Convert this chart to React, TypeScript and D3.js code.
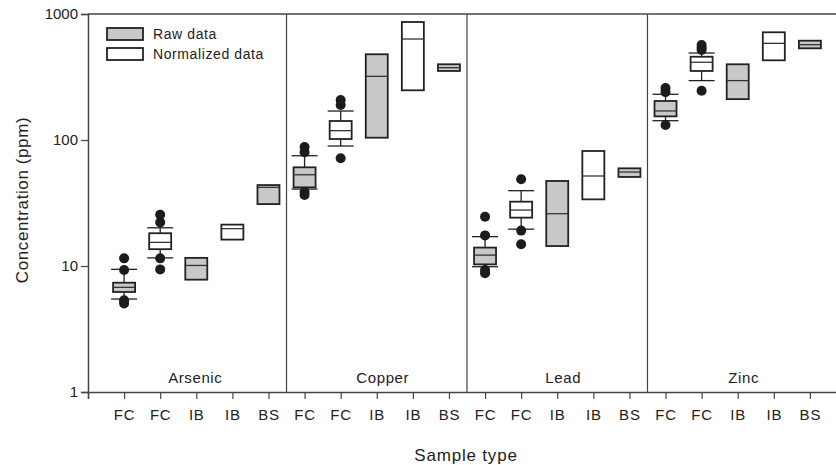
import React, { useEffect, useRef } from "react";
import * as d3 from "d3";

// element groups and the sample type under each tick
const groups = ["Arsenic", "Copper", "Lead", "Zinc"];
const sampleTypes = ["FC", "FC", "IB", "IB", "BS"];
const dataKinds = ["raw", "norm", "raw", "norm", "raw"];

// box statistics, 5 boxes per element (Arsenic, Copper, Lead, Zinc)
const boxLow = [
  6.22, 13.6, 7.79, 16.2, 31.0,
  42.1, 101.8, 104.3, 248, 353,
  10.3, 24.2, 14.4, 33.8, 50.9,
  154, 353, 211, 429, 534,
];
const boxMedian = [
  6.77, 15.4, 10.1, 19.8, 42.1,
  53.0, 118.6, 320, 633, 375,
  12.2, 27.8, 26.0, 51.8, 55.7,
  170, 414, 296, 585, 571,
];
const boxHigh = [
  7.37, 18.2, 11.6, 21.3, 43.9,
  60.7, 141.5, 479, 864, 399,
  14.0, 32.4, 47.3, 81.8, 59.6,
  204, 458, 399, 716, 614,
];
const whiskerLow = [
  5.47, 11.6, null, null, null,
  40.8, 89.6, null, null, null,
  9.87, 19.6, null, null, null,
  142.3, 296, null, null, null,
];
const whiskerHigh = [
  9.41, 20.1, null, null, null,
  75.0, 169.8, null, null, null,
  17.1, 39.6, null, null, null,
  230.6, 490, null, null, null,
];
const outliers = [
  [11.5, 9.3, 5.35, 5.05], [25.5, 22.2, 11.5, 9.4], [], [], [],
  [88, 80, 38.6, 36.6], [207.6, 189.6, 71.6], [], [], [],
  [24.6, 17.5, 9.3, 8.75], [48.8, 19.1, 14.9], [], [], [],
  [259, 240, 131.6], [567, 540, 518, 246], [], [], [],
];

const yTicks = [1, 10, 100, 1000];

const W = 836;
const H = 465;

const App = () => {
  const svgRef = useRef(null);

  useEffect(() => {
    const font = "'Liberation Sans', Arial, sans-serif";
    const ink = "#222";
    const gray = "#c8c8c8";

    const x = d3.scaleLinear().domain([0, 21]).range([88, 846]);
    const y = d3.scaleLog().domain([1, 1000]).range([392, 14]);

    const svg = d3.select(svgRef.current);
    svg.selectAll("*").remove();

    const nTotal = groups.length * sampleTypes.length;
    const idx = d3.range(nTotal);

    // top frame line and group separators
    svg
      .append("line")
      .attr("x1", x(0))
      .attr("x2", W)
      .attr("y1", y(1000))
      .attr("y2", y(1000))
      .attr("stroke", "#444")
      .attr("stroke-width", 1.5);

    svg
      .append("g")
      .selectAll("line")
      .data(d3.range(1, groups.length))
      .join("line")
      .attr("x1", (g) => x(g * 5 + 0.5))
      .attr("x2", (g) => x(g * 5 + 0.5))
      .attr("y1", y(1000))
      .attr("y2", y(1))
      .attr("stroke", "#444")
      .attr("stroke-width", 1.2);

    // group names
    svg
      .append("g")
      .selectAll("text")
      .data(groups)
      .join("text")
      .attr("x", (_, g) => x(g * 5 + 3) - (g === 0 ? 1 : -6))
      .attr("y", 383)
      .attr("text-anchor", "middle")
      .attr("font-family", font)
      .attr("font-size", 15)
      .attr("letter-spacing", 0.6)
      .attr("fill", ink)
      .text((d) => d);

    // axes
    const yAxis = d3
      .axisLeft(y)
      .tickValues(yTicks)
      .tickSize(7)
      .tickPadding(3)
      .tickFormat(d3.format("d"));
    const gy = svg
      .append("g")
      .attr("transform", `translate(${x(0)},0)`)
      .call(yAxis);
    gy.select(".domain").attr("stroke", "#444").attr("stroke-width", 1.5);
    gy.selectAll(".tick line").attr("stroke", "#444").attr("stroke-width", 1.2);
    gy.selectAll(".tick text")
      .attr("font-family", font)
      .attr("font-size", 15)
      .attr("fill", ink);

    const xAxis = d3
      .axisBottom(x)
      .tickValues(d3.range(0, nTotal + 1))
      .tickSize(7)
      .tickPadding(10)
      .tickFormat((d) => (d === 0 ? "" : sampleTypes[(d - 1) % 5]));
    const gx = svg
      .append("g")
      .attr("transform", `translate(0,${y(1)})`)
      .call(xAxis);
    gx.select(".domain").attr("stroke", "#444").attr("stroke-width", 1.5);
    gx.selectAll(".tick line").attr("stroke", "#444").attr("stroke-width", 1.2);
    gx.selectAll(".tick text")
      .attr("font-family", font)
      .attr("font-size", 15)
      .attr("letter-spacing", 0.8)
      .attr("fill", ink);

    // axis titles
    svg
      .append("text")
      .attr("transform", `translate(28,200) rotate(-90)`)
      .attr("text-anchor", "middle")
      .attr("font-family", font)
      .attr("font-size", 17)
      .attr("letter-spacing", 0.6)
      .attr("fill", ink)
      .text("Concentration (ppm)");

    svg
      .append("text")
      .attr("x", 466)
      .attr("y", 461)
      .attr("text-anchor", "middle")
      .attr("font-family", font)
      .attr("font-size", 17)
      .attr("letter-spacing", 0.8)
      .attr("fill", ink)
      .text("Sample type");

    // boxes
    const boxW = 22;
    const capW = 26;
    const node = svg
      .append("g")
      .selectAll("g")
      .data(idx)
      .join("g")
      .attr("transform", (i) => `translate(${x(i + 1)},0)`);

    node
      .filter((i) => whiskerHigh[i] !== null)
      .each(function (i) {
        const g = d3.select(this);
        const segs = [
          [boxHigh[i], whiskerHigh[i]],
          [boxLow[i], whiskerLow[i]],
        ];
        segs.forEach(([a, b]) => {
          g.append("line")
            .attr("x1", 0)
            .attr("x2", 0)
            .attr("y1", y(a))
            .attr("y2", y(b))
            .attr("stroke", ink)
            .attr("stroke-width", 1.3);
          g.append("line")
            .attr("x1", -capW / 2)
            .attr("x2", capW / 2)
            .attr("y1", y(b))
            .attr("y2", y(b))
            .attr("stroke", ink)
            .attr("stroke-width", 1.3);
        });
      });

    node
      .append("rect")
      .attr("x", -boxW / 2)
      .attr("width", boxW)
      .attr("y", (i) => y(boxHigh[i]))
      .attr("height", (i) => y(boxLow[i]) - y(boxHigh[i]))
      .attr("fill", (i) => (dataKinds[i % 5] === "raw" ? gray : "#fff"))
      .attr("stroke", ink)
      .attr("stroke-width", 1.8);

    node
      .append("line")
      .attr("x1", -boxW / 2)
      .attr("x2", boxW / 2)
      .attr("y1", (i) => y(boxMedian[i]))
      .attr("y2", (i) => y(boxMedian[i]))
      .attr("stroke", "#333")
      .attr("stroke-width", 1.3);

    node
      .selectAll("circle")
      .data((i) => outliers[i])
      .join("circle")
      .attr("cx", 0)
      .attr("cy", (v) => y(v))
      .attr("r", 5)
      .attr("fill", "#1c1c1c");

    // legend
    const legend = svg.append("g").attr("transform", "translate(107,28)");
    const items = [
      { label: "Raw data", fill: gray },
      { label: "Normalized data", fill: "#fff" },
    ];
    const li = legend
      .selectAll("g")
      .data(items)
      .join("g")
      .attr("transform", (_, k) => `translate(0,${k * 20})`);
    li.append("rect")
      .attr("width", 36)
      .attr("height", 12)
      .attr("fill", (d) => d.fill)
      .attr("stroke", ink)
      .attr("stroke-width", 1.8);
    li.append("text")
      .attr("x", 46)
      .attr("y", 11)
      .attr("font-family", font)
      .attr("font-size", 14)
      .attr("letter-spacing", 0.6)
      .attr("fill", ink)
      .text((d) => d.label);
  }, []);

  return (
    <div style={{ position: "absolute", left: 0, top: 0, width: W, height: H, background: "#fff" }}>
      <svg ref={svgRef} width={W} height={H}></svg>
    </div>
  );
};

export default App;
